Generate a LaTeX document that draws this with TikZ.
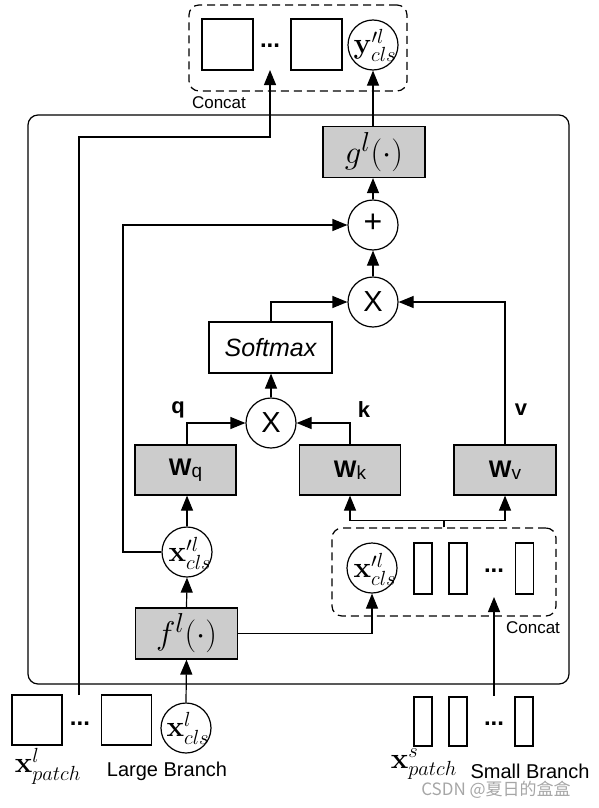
\documentclass[tikz,border=0pt]{standalone}
\usepackage[no-math]{fontspec}
\setmainfont{Liberation Sans}
\newfontfamily\cjkfont{Noto Sans CJK SC}
\usetikzlibrary{arrows.meta}
\tikzset{
  every node/.style={inner sep=0pt},
  ln/.style={line width=1.2pt},
  arr/.style={ln, -{Triangle[length=15pt,width=12pt]}},
  graybox/.style={draw, line width=1.2pt, fill=gray!40, minimum width=102pt, minimum height=51pt},
  whitebox/.style={draw, line width=1.2pt, fill=white},
  circ/.style={draw, circle, line width=1.2pt, minimum size=50pt, fill=white},
  dashbox/.style={draw, line width=1.2pt, dash pattern=on 8pt off 5pt, rounded corners=10pt},
  mtxt/.style={font=\huge, scale=1.42},
  ftxt/.style={font=\Huge, scale=1.32},
  lbl/.style={font=\fontsize{20}{22}\selectfont},
  clbl/.style={font=\fontsize{17}{19}\selectfont},
  qkv/.style={font=\fontsize{22}{24}\selectfont\bfseries},
  dots/.style={font=\fontsize{24}{26}\selectfont\bfseries},
  opx/.style={font=\fontsize{29}{30}\selectfont},
}
\newcommand{\wlab}[1]{{\fontsize{24}{26}\selectfont\bfseries W}\raisebox{-2pt}{\fontsize{19}{21}\selectfont #1}}
\begin{document}
\begin{tikzpicture}[x=1pt,y=-1pt]
\useasboundingbox (0,0) rectangle (598,808);
% big frame
\draw[ln, rounded corners=10pt] (28,115) rectangle (569,684);
% top concat
\node[dashbox, minimum width=218pt, minimum height=86pt] (topcat) at (298,48) {};
\node[whitebox, minimum size=51pt] (sq1) at (227.5,44.5) {};
\node[whitebox, minimum size=51pt] (sq2) at (316.5,44.5) {};
\node[dots] (dt1) at (270,46) {...};
\node[circ] (ycls) at (373,45) {};
\node[mtxt] (yclst) at (375,45) {$\mathbf{y}^{\prime l}_{cls}$};
\node[clbl] (cat1) at (219,103) {Concat};
% g box
\node[graybox] (g) at (374,152) {};
\node[ftxt] (gt) at (g) {$g^{l}(\cdot)$};
\node[circ] (plus) at (373,225) {};
\node[font=\fontsize{32}{34}\selectfont] (plust) at (373,223) {+};
\node[circ] (tm2) at (373,302) {};
\node[opx] (tm2t) at (tm2) {X};
\node[whitebox, minimum width=123pt, minimum height=51pt, font=\fontsize{25}{27}\selectfont\itshape] (soft) at (270.5,347.5) {Softmax};
\node[circ] (tm1) at (271,423) {};
\node[opx] (tm1t) at (tm1) {X};
\node[graybox, minimum width=101pt, minimum height=50pt] (wq) at (185.5,470) {\wlab{q}};
\node[graybox, minimum width=101pt, minimum height=50pt] (wk) at (350,470) {\wlab{k}};
\node[graybox, minimum width=102pt, minimum height=50pt] (wv) at (505,470) {\wlab{v}};
\node[qkv] (ql) at (178,410) {q};
\node[qkv] (kl) at (364,410) {k};
\node[qkv] (vl) at (521,410) {v};
% left cls and f
\node[circ] (xc1) at (187,552) {};
\node[mtxt] (xc1t) at (190,553) {$\mathbf{x}^{\prime l}_{cls}$};
\node[graybox] (f) at (186.5,633.5) {};
\node[ftxt] (ft) at (f) {$f^{l}(\cdot)$};
% concat 2
\node[dashbox, minimum width=224pt, minimum height=88pt] (cat2) at (444,572) {};
\node[circ] (xc2) at (372,568) {};
\node[mtxt] (xc2t) at (375,569) {$\mathbf{x}^{\prime l}_{cls}$};
\node[whitebox, minimum width=18pt, minimum height=51pt] (r1) at (423,568.5) {};
\node[whitebox, minimum width=18pt, minimum height=51pt] (r2) at (458,568.5) {};
\node[whitebox, minimum width=18pt, minimum height=51pt] (r3) at (524.5,568.5) {};
\node[dots] (dt2) at (494,571) {...};
\node[clbl] (cat2l) at (533,628) {Concat};
% bottom large branch
\node[whitebox, minimum size=50pt] (b1) at (37,720) {};
\node[whitebox, minimum size=50pt] (b2) at (126.5,720) {};
\node[dots] (dt3) at (80,724) {...};
\node[circ] (xcb) at (186,728) {};
\node[mtxt] (xcbt) at (188,728) {$\mathbf{x}^{l}_{cls}$};
\node[mtxt] (xpl) at (48,766) {$\mathbf{x}^{l}_{patch}$};
\node[lbl] (lb) at (167,771) {Large Branch};
% bottom small branch
\node[whitebox, minimum width=18pt, minimum height=49pt] (s1) at (423,721.5) {};
\node[whitebox, minimum width=18pt, minimum height=49pt] (s2) at (458,721.5) {};
\node[whitebox, minimum width=18pt, minimum height=49pt] (s3) at (524,721.5) {};
\node[dots] (dt4) at (494,724) {...};
\node[mtxt] (xps) at (424,764) {$\mathbf{x}^{s}_{patch}$};
\node[lbl] (sb) at (530,771) {Small Branch};
\node[font=\fontsize{17}{19}\selectfont\cjkfont, text=gray!70] (wm) at (496,790) {CSDN @夏日的盒盒};
% coordinates
\coordinate (ls) at (79,695);
\coordinate (lturn) at (270,137);
\coordinate (ltip) at (270,70);
\coordinate (rs) at (494,684);
\coordinate (rtip) at (494,597);
\coordinate (lft) at (123,0);
% connectors
\draw[arr] (xcb.north) -- (f.south);
\draw[arr] (f.north) -- (xc1.south);
\draw[arr] (xc1.north) -- (wq.south -| xc1.north);
\draw[arr] (xc1.west) -- (xc1.west -| lft) -- (lft |- plus) -- (plus.west);
\draw[arr] (f.east) -| (xc2.south);
\draw[arr] (cat2.north) -- ++(0,-7) -| (wk.south);
\draw[arr] (cat2.north) -- ++(0,-7) -| (wv.south);
\draw[arr] (wq.north -| xc1) |- (tm1.west);
\draw[arr] (wk.north) |- (tm1.east);
\draw[arr] (wv.north) |- (tm2.east);
\draw[arr] (tm1.north) -- (soft.south -| tm1);
\draw[arr] (soft.north -| tm1) |- (tm2.west);
\draw[arr] (tm2.north) -- (plus.south);
\draw[arr] (plus.north) -- (g.south -| plus);
\draw[arr] (g.north -| ycls) -- (ycls.south);
\draw[arr] (ls) |- (lturn) -- (ltip);
\draw[ln] (rs) -- ++(0,12);
\draw[arr] (rs) -- (rtip);
\end{tikzpicture}
\end{document}
